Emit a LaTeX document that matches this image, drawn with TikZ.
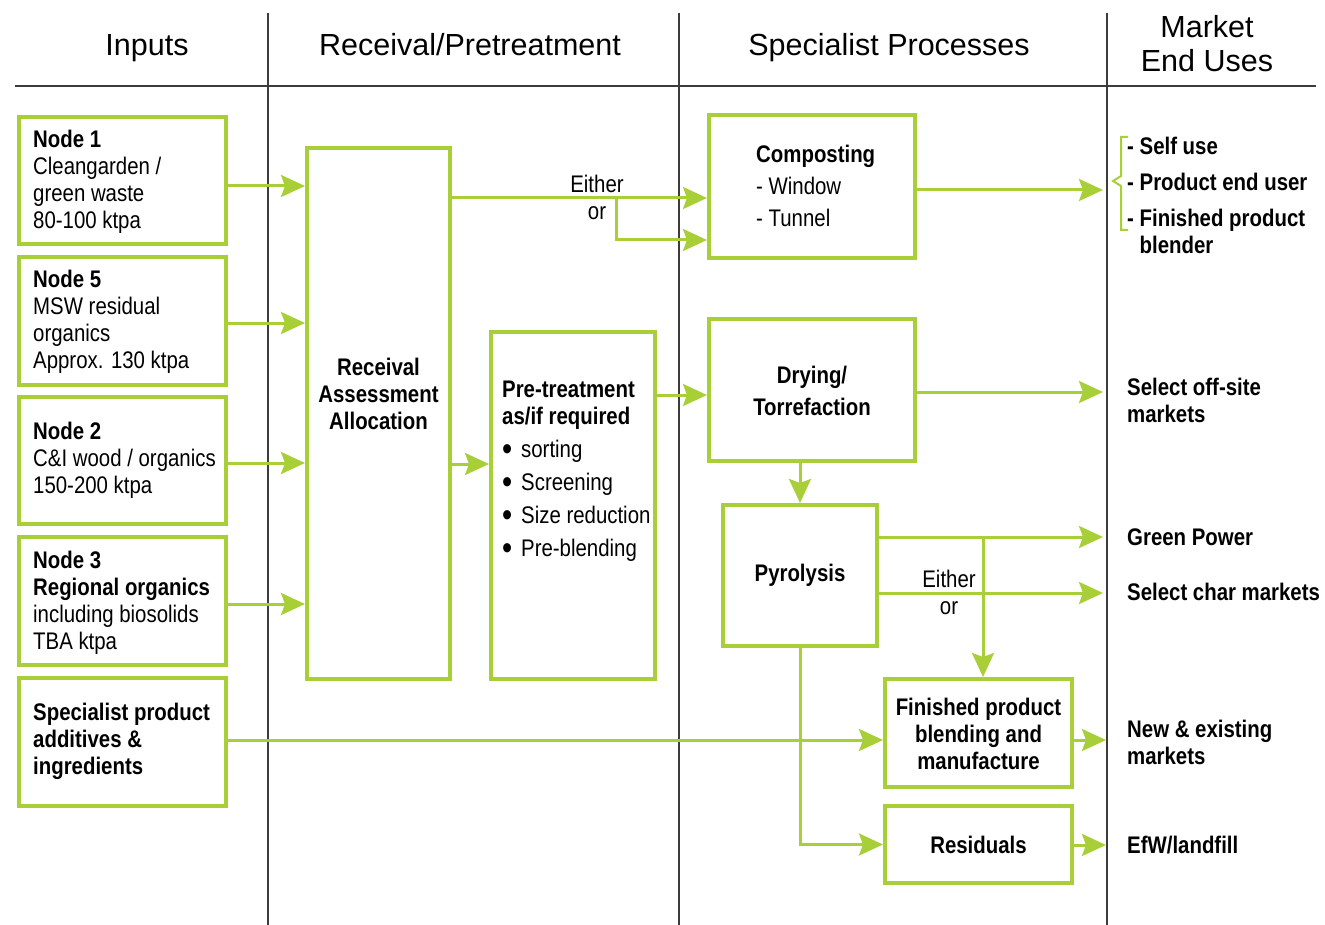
\documentclass[tikz,border=0pt]{standalone}
\usepackage{fontspec}
\setmainfont{Liberation Sans}[FakeStretch=0.85]
\newfontfamily\hdrfont{Liberation Sans}
\usetikzlibrary{arrows.meta}
\definecolor{lgreen}{RGB}{168,207,56}
\definecolor{divgray}{RGB}{60,60,60}
\newcommand\bigbul{\makebox[19pt][l]{\raisebox{-3pt}{\fontsize{34}{27}\selectfont\textbullet}}}
\tikzset{
  gbox/.style={draw=lgreen, line width=4pt, rectangle, inner sep=0pt},
  arr/.style={draw=lgreen, line width=3pt, -{Stealth[length=24pt,width=22pt,inset=4pt]}},
  gline/.style={draw=lgreen, line width=3pt},
  divider/.style={draw=divgray, line width=1.5pt},
  txt/.style={font=\fontsize{24}{27}\selectfont, align=left, inner sep=0pt},
  btxt/.style={txt, font=\fontsize{24}{27}\selectfont\bfseries},
  ctxt/.style={font=\fontsize{24}{27}\selectfont\bfseries, align=center, inner sep=0pt},
  hdr/.style={font=\hdrfont\fontsize{30.5}{34}\selectfont, align=center, inner sep=0pt, anchor=base}
}
\begin{document}
\begin{tikzpicture}[x=1pt,y=-1pt]
\useasboundingbox (0,0) rectangle (1325,925);
% dividers
\draw[divider] (268,13) -- (268,925);
\draw[divider] (679,13) -- (679,925);
\draw[divider] (1107,13) -- (1107,925);
\draw[divider] (15,86) -- (1316,86);
% headers
\node[hdr] (h1) at (147,56) {Inputs};
\node[hdr] (h2) at (470,56) {Receival/Pretreatment};
\node[hdr] (h3) at (889,56) {Specialist Processes};
\node[hdr] (h4a) at (1207,38) {Market};
\node[hdr] (h4b) at (1207,72) {End Uses};
% boxes
\node[gbox, minimum width=207pt, minimum height=127pt] (n1) at (122.5,180.5) {};
\node[gbox, minimum width=207pt, minimum height=128pt] (n5) at (122.5,321) {};
\node[gbox, minimum width=207pt, minimum height=127pt] (n2) at (122.5,460.5) {};
\node[gbox, minimum width=207pt, minimum height=128pt] (n3) at (122.5,601) {};
\node[gbox, minimum width=207pt, minimum height=128pt] (spec) at (122.5,742) {};
\node[gbox, minimum width=143pt, minimum height=531pt] (rec) at (378.5,413.5) {};
\node[gbox, minimum width=164pt, minimum height=347pt] (pre) at (573,505.5) {};
\node[gbox, minimum width=206pt, minimum height=143pt] (comp) at (812,186.5) {};
\node[gbox, minimum width=206pt, minimum height=142pt] (dry) at (812,390) {};
\node[gbox, minimum width=154pt, minimum height=141pt] (pyr) at (800,575.5) {};
\node[gbox, minimum width=187pt, minimum height=108pt] (fin) at (978.5,733) {};
\node[gbox, minimum width=187pt, minimum height=77pt] (res) at (978.5,844.5) {};
% box texts
\node[txt, anchor=west] (t1) at (33,182) {\textbf{Node 1}\\Cleangarden /\\green waste\\80-100 ktpa};
\node[txt, anchor=west] (t5) at (33,322) {\textbf{Node 5}\\MSW residual\\organics\\Approx. 130 ktpa};
\node[txt, anchor=west] (t2) at (33,460.5) {\textbf{Node 2}\\C\&I wood / organics\\150-200 ktpa};
\node[txt, anchor=west] (t3) at (33,603) {\textbf{Node 3}\\\textbf{Regional organics}\\including biosolids\\TBA ktpa};
\node[btxt, anchor=west] (ts) at (33,741.5) {Specialist product\\additives \&\\ingredients};
\node[ctxt] (trec) at (378.5,393.5) {Receival\\Assessment\\Allocation};
\node[txt, anchor=north west] (tpre) at (502,381) {\textbf{Pre-treatment}\\\textbf{as/if required}\\[6pt]
  \bigbul sorting\\[6pt]
  \bigbul Screening\\[6pt]
  \bigbul Size reduction\\[6pt]
  \bigbul Pre-blending};
\node[txt, anchor=west] (tcomp) at (756,186) {\textbf{Composting}\\[5pt]- Window\\[5pt]- Tunnel};
\node[ctxt] (tdry) at (812,391) {Drying/\\[5pt]Torrefaction};
\node[ctxt] (tpyr) at (800,575) {Pyrolysis};
\node[ctxt] (tfin) at (978.5,733.5) {Finished product\\blending and\\manufacture};
\node[ctxt] (tres) at (978.5,844.5) {Residuals};
% either/or labels
\node[txt, align=center] (eo1) at (597,197.5) {Either\\or};
\node[txt, align=center] (eo2) at (949,592) {Either\\or};
% market texts
\node[btxt, anchor=west] (mk1) at (1127,195) {- Self use\\[9pt]- Product end user\\[9pt]- Finished product\\\phantom{- }blender};
\node[btxt, anchor=west] (mk2) at (1127,400) {Select off-site\\markets};
\node[btxt, anchor=west] (mk3) at (1127,537) {Green Power};
\node[btxt, anchor=west] (mk4) at (1127,592) {Select char markets};
\node[btxt, anchor=west] (mk5) at (1127,742) {New \& existing\\markets};
\node[btxt, anchor=west] (mk6) at (1127,845) {EfW/landfill};
% brace
\draw[draw=lgreen, line width=2pt] (1128,137) -- (1121,137) -- (1121,176) -- (1113,181) -- (1121,186) -- (1121,230) -- (1128,230);
% free-end coordinates
\coordinate (m1) at (1103,190);
\coordinate (m2) at (1103,392);
\coordinate (m3) at (1103,537);
\coordinate (m4) at (1103,593);
\coordinate (m5) at (1106,740);
\coordinate (m6) at (1106,845);
\coordinate (b1) at (616,198);
\coordinate (b2) at (983,537);
% connectors
\draw[arr] (n1.east |- 0,186) -- (rec.west |- 0,186);
\draw[arr] (n5.east |- 0,323) -- (rec.west |- 0,323);
\draw[arr] (n2.east |- 0,463) -- (rec.west |- 0,463);
\draw[arr] (n3.east |- 0,604) -- (rec.west |- 0,604);
\draw[arr] (spec.east |- 0,740) -- (fin.west |- 0,740);
\draw[arr] (rec.east |- 0,464) -- (pre.west |- 0,464);
\draw[arr] (rec.east |- 0,198) -- (comp.west |- 0,198);
\draw[arr] (b1) |- (comp.west |- 0,240);
\draw[arr] (pre.east |- 0,395) -- (dry.west |- 0,395);
\draw[arr] (comp.east |- m1) -- (m1);
\draw[arr] (dry.east |- m2) -- (m2);
\draw[arr] (pyr.east |- m3) -- (m3);
\draw[arr] (pyr.east |- m4) -- (m4);
\draw[arr] (b2) -- (b2 |- fin.north);
\draw[arr] (pyr.north |- dry.south) -- (pyr.north);
\draw[arr] (pyr.south) |- (res.west);
\draw[arr] (fin.east |- m5) -- (m5);
\draw[arr] (res.east |- m6) -- (m6);
\end{tikzpicture}
\end{document}
